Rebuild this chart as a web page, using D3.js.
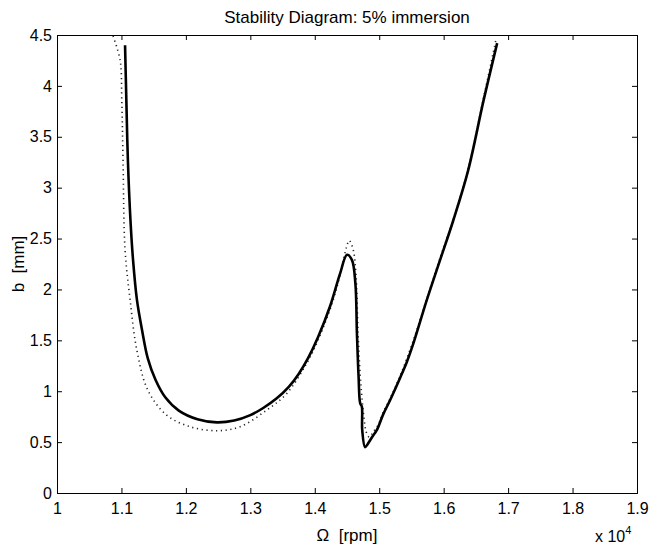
<!DOCTYPE html>
<html>
<head>
<meta charset="utf-8">
<script src="https://cdn.jsdelivr.net/npm/d3@7"></script>
<style>
  body { margin: 0; background: #fff; }
  svg { display: block; font-family: "Liberation Sans", Arial, sans-serif; }
</style>
</head>
<body>
<svg id="chart"></svg>
<script>
// Omega values are in units of 10^4 rpm, b in mm
const solidOmega = [1.1056, 1.1076, 1.110, 1.114, 1.118, 1.124, 1.132, 1.141, 1.153, 1.168, 1.189, 1.218, 1.248, 1.275,
    1.300, 1.320, 1.341, 1.360, 1.375, 1.390, 1.405, 1.424, 1.439, 1.450, 1.4576, 1.463, 1.4654, 1.468, 1.4705, 1.473,
    1.4736, 1.478, 1.482, 1.489, 1.4964, 1.506, 1.517, 1.533, 1.543, 1.553, 1.574, 1.595, 1.615, 1.638, 1.662, 1.683];
const solidB = [4.40, 3.86, 3.27, 2.68, 2.29, 1.90, 1.60, 1.32, 1.11, 0.94, 0.81, 0.725, 0.694, 0.712,
    0.765, 0.835, 0.93, 1.045, 1.17, 1.33, 1.53, 1.84, 2.15, 2.34, 2.29, 2.06, 1.57, 1.14, 0.88, 0.85,
    0.62, 0.45, 0.48, 0.55, 0.62, 0.77, 0.914, 1.14, 1.29, 1.47, 1.90, 2.30, 2.68, 3.17, 3.86, 4.42];

const dottedOmega = [1.087, 1.098, 1.1005, 1.1025, 1.1056, 1.1134, 1.124, 1.141, 1.170, 1.2065, 1.248, 1.284,
    1.3256, 1.3567, 1.3877, 1.405, 1.4286, 1.441, 1.449, 1.4534, 1.4596, 1.464, 1.467, 1.4705, 1.4736, 1.4767,
    1.4798, 1.4845, 1.4907, 1.4984, 1.506, 1.517, 1.533, 1.553, 1.5745, 1.595, 1.615, 1.638, 1.6615, 1.6817];
const dottedB = [4.49, 4.25, 3.86, 3.27, 2.39, 1.90, 1.40, 1.01, 0.766, 0.651, 0.612, 0.651,
    0.815, 0.979, 1.277, 1.50, 1.896, 2.19, 2.41, 2.48, 2.39, 2.14, 1.60, 1.16, 0.91, 0.72,
    0.60, 0.55, 0.60, 0.67, 0.79, 0.93, 1.16, 1.50, 1.92, 2.32, 2.69, 3.18, 3.87, 4.47];

const xTicks = [1, 1.1, 1.2, 1.3, 1.4, 1.5, 1.6, 1.7, 1.8, 1.9];
const yTicks = [0, 0.5, 1, 1.5, 2, 2.5, 3, 3.5, 4, 4.5];

const width = 649, height = 548;
const margin = { top: 35, right: 12, bottom: 55, left: 57 };
const innerW = width - margin.left - margin.right;
const innerH = height - margin.top - margin.bottom;

const svg = d3.select('#chart')
    .attr('width', width)
    .attr('height', height);

const chart = svg.append('g')
    .attr('transform', `translate(${margin.left}, ${margin.top})`);

const x = d3.scaleLinear().domain([1, 1.9]).range([0, innerW]);
const y = d3.scaleLinear().domain([0, 4.5]).range([innerH, 0]);

const tickLen = 5;

// axes: ticks point inward, labels on left/bottom only
chart.append('g')
    .attr('class', 'x axis')
    .attr('transform', `translate(0, ${innerH})`)
    .call(d3.axisBottom(x).tickValues(xTicks).tickSize(-tickLen).tickPadding(10).tickFormat(d3.format('')));
chart.append('g')
    .attr('class', 'x axis top')
    .call(d3.axisTop(x).tickValues(xTicks).tickSize(-tickLen).tickFormat(''));
chart.append('g')
    .attr('class', 'y axis')
    .call(d3.axisLeft(y).tickValues(yTicks).tickSize(-tickLen).tickPadding(5).tickFormat(d3.format('')));
chart.append('g')
    .attr('class', 'y axis right')
    .attr('transform', `translate(${innerW}, 0)`)
    .call(d3.axisRight(y).tickValues(yTicks).tickSize(-tickLen).tickFormat(''));

chart.selectAll('.axis path, .axis line')
    .attr('stroke', '#000')
    .attr('stroke-width', 1);
chart.selectAll('.axis text')
    .attr('fill', '#000')
    .style('font-size', '16px');

// clip the curves to the plot box
chart.append('clipPath')
    .attr('id', 'plot-clip')
    .append('rect')
    .attr('width', innerW)
    .attr('height', innerH);

const line = d3.line()
    .x(d => x(d[0]))
    .y(d => y(d[1]))
    .curve(d3.curveCatmullRom.alpha(0.5));

const dotted = dottedOmega.map((o, i) => [o, dottedB[i]]);
const solid = solidOmega.map((o, i) => [o, solidB[i]]);

chart.append('path')
    .datum(dotted)
    .attr('clip-path', 'url(#plot-clip)')
    .attr('fill', 'none')
    .attr('stroke', '#222')
    .attr('stroke-width', 1.6)
    .attr('stroke-dasharray', '1.2,3.6')
    .attr('d', line);

chart.append('path')
    .datum(solid)
    .attr('clip-path', 'url(#plot-clip)')
    .attr('fill', 'none')
    .attr('stroke', '#000')
    .attr('stroke-width', 2.6)
    .attr('stroke-linejoin', 'round')
    .attr('d', line);

// title and labels
svg.append('text')
    .attr('x', margin.left + innerW / 2)
    .attr('y', 23)
    .attr('text-anchor', 'middle')
    .style('font-size', '17px')
    .text('Stability Diagram: 5% immersion');

svg.append('text')
    .attr('x', margin.left + innerW / 2)
    .attr('y', 541)
    .attr('text-anchor', 'middle')
    .style('font-size', '17px')
    .style('white-space', 'pre')
    .text('Ω  [rpm]');

svg.append('text')
    .attr('transform', `translate(24, ${margin.top + innerH / 2}) rotate(-90)`)
    .attr('text-anchor', 'middle')
    .style('font-size', '17px')
    .style('white-space', 'pre')
    .text('b  [mm]');

const exp = svg.append('text')
    .attr('x', 595)
    .attr('y', 542)
    .style('font-size', '16px')
    .text('x 10');
exp.append('tspan')
    .attr('dy', -8)
    .style('font-size', '11px')
    .text('4');
</script>
</body>
</html>
